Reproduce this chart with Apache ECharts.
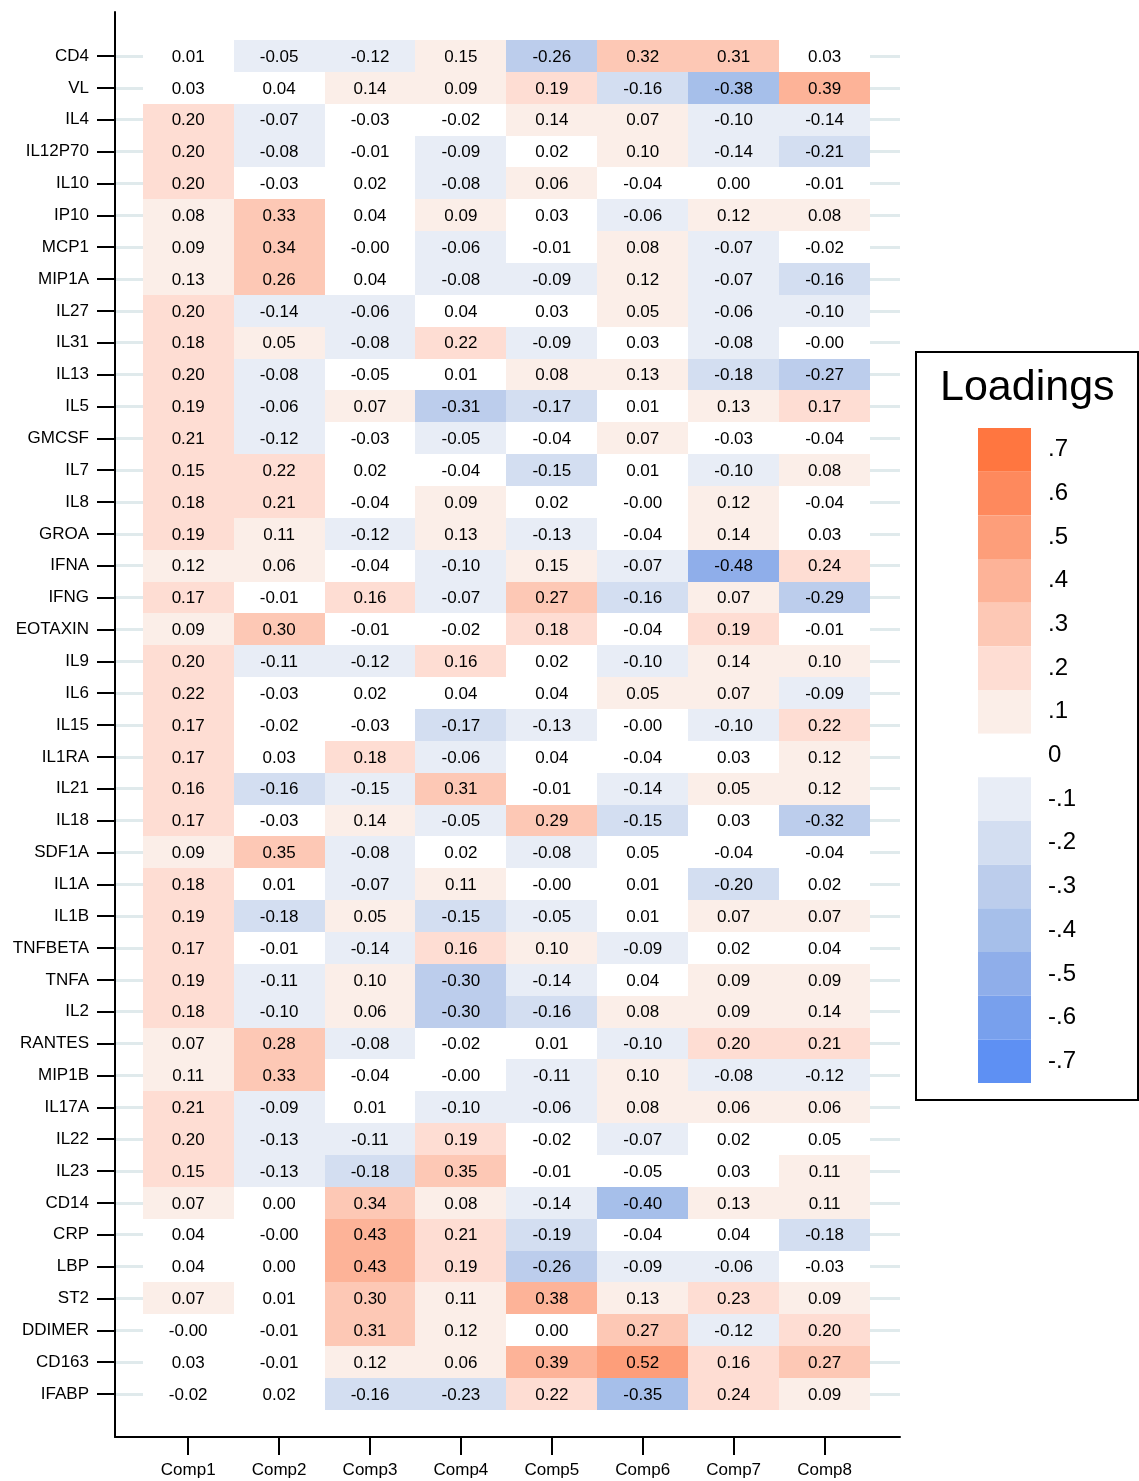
<!DOCTYPE html>
<html>
<head>
<meta charset="utf-8">
<script src="https://cdn.jsdelivr.net/npm/echarts@6/dist/echarts.min.js"></script>
<style>
  html, body { margin: 0; padding: 0; background: #fff; }
  #chart { width: 1139px; height: 1481px; }
</style>
</head>
<body>
<div id="chart"></div>
<script>
// markers (rows, top to bottom) and components (columns)
var markers = ['CD4', 'VL', 'IL4', 'IL12P70', 'IL10', 'IP10', 'MCP1', 'MIP1A', 'IL27', 'IL31',
  'IL13', 'IL5', 'GMCSF', 'IL7', 'IL8', 'GROA', 'IFNA', 'IFNG', 'EOTAXIN', 'IL9',
  'IL6', 'IL15', 'IL1RA', 'IL21', 'IL18', 'SDF1A', 'IL1A', 'IL1B', 'TNFBETA', 'TNFA',
  'IL2', 'RANTES', 'MIP1B', 'IL17A', 'IL22', 'IL23', 'CD14', 'CRP', 'LBP', 'ST2',
  'DDIMER', 'CD163', 'IFABP']
var comps = ['Comp1', 'Comp2', 'Comp3', 'Comp4', 'Comp5', 'Comp6', 'Comp7', 'Comp8']

// loadings per component, same order as markers
var comp1 = [0.01, 0.03, 0.20, 0.20, 0.20, 0.08, 0.09, 0.13, 0.20, 0.18,
  0.20, 0.19, 0.21, 0.152, 0.18, 0.19, 0.12, 0.17, 0.09, 0.20,
  0.22, 0.17, 0.17, 0.16, 0.17, 0.09, 0.18, 0.19, 0.17, 0.19,
  0.18, 0.07, 0.11, 0.21, 0.20, 0.152, 0.07, 0.04, 0.04, 0.07,
  -0.001, 0.03, -0.02]
var comp2 = [-0.052, 0.04, -0.07, -0.08, -0.03, 0.33, 0.34, 0.26, -0.14, 0.052,
  -0.08, -0.06, -0.12, 0.22, 0.21, 0.11, 0.06, -0.01, 0.30, -0.11,
  -0.03, -0.02, 0.03, -0.16, -0.03, 0.348, 0.01, -0.18, -0.01, -0.11,
  -0.10, 0.28, 0.33, -0.09, -0.13, -0.13, 0.00, -0.001, 0.00, 0.01,
  -0.01, -0.01, 0.02]
var comp3 = [-0.12, 0.14, -0.03, -0.01, 0.02, 0.04, -0.001, 0.04, -0.06, -0.08,
  -0.048, 0.07, -0.03, 0.02, -0.04, -0.12, -0.04, 0.16, -0.01, -0.12,
  0.02, -0.03, 0.18, -0.148, 0.14, -0.08, -0.07, 0.052, -0.14, 0.10,
  0.06, -0.08, -0.04, 0.01, -0.11, -0.18, 0.34, 0.43, 0.43, 0.30,
  0.31, 0.12, -0.16]
var comp4 = [0.148, 0.09, -0.02, -0.09, -0.08, 0.09, -0.06, -0.08, 0.04, 0.22,
  0.01, -0.31, -0.052, -0.04, 0.09, 0.13, -0.10, -0.07, -0.02, 0.16,
  0.04, -0.17, -0.06, 0.31, -0.052, 0.02, 0.11, -0.152, 0.16, -0.30,
  -0.30, -0.02, -0.001, -0.10, 0.19, 0.348, 0.08, 0.21, 0.19, 0.11,
  0.12, 0.06, -0.23]
var comp5 = [-0.26, 0.19, 0.14, 0.02, 0.06, 0.03, -0.01, -0.09, 0.03, -0.09,
  0.08, -0.17, -0.04, -0.152, 0.02, -0.13, 0.148, 0.27, 0.18, 0.02,
  0.04, -0.13, 0.04, -0.01, 0.29, -0.08, -0.001, -0.052, 0.10, -0.14,
  -0.16, 0.01, -0.11, -0.06, -0.02, -0.01, -0.14, -0.19, -0.26, 0.38,
  0.00, 0.39, 0.22]
var comp6 = [0.32, -0.16, 0.07, 0.10, -0.04, -0.06, 0.08, 0.12, 0.052, 0.03,
  0.13, 0.01, 0.07, 0.01, -0.001, -0.04, -0.07, -0.16, -0.04, -0.10,
  0.052, -0.001, -0.04, -0.14, -0.152, 0.048, 0.01, 0.01, -0.09, 0.04,
  0.08, -0.10, 0.10, 0.08, -0.07, -0.048, -0.40, -0.04, -0.09, 0.13,
  0.27, 0.52, -0.352]
var comp7 = [0.31, -0.38, -0.10, -0.14, 0.00, 0.12, -0.07, -0.07, -0.06, -0.08,
  -0.18, 0.13, -0.03, -0.10, 0.12, 0.14, -0.48, 0.07, 0.19, 0.14,
  0.07, -0.10, 0.03, 0.052, 0.03, -0.04, -0.20, 0.07, 0.02, 0.09,
  0.09, 0.20, -0.08, 0.06, 0.02, 0.03, 0.13, 0.04, -0.06, 0.23,
  -0.12, 0.16, 0.24]
var comp8 = [0.03, 0.39, -0.14, -0.21, -0.01, 0.08, -0.02, -0.16, -0.10, -0.001,
  -0.27, 0.17, -0.04, 0.08, -0.04, 0.03, 0.24, -0.29, -0.01, 0.10,
  -0.09, 0.22, 0.12, 0.12, -0.32, -0.04, 0.02, 0.07, 0.04, 0.09,
  0.14, 0.21, -0.12, 0.06, 0.048, 0.11, 0.11, -0.18, -0.03, 0.09,
  0.20, 0.27, 0.09]

// legend steps, top to bottom
var legendSteps = [0.7, 0.6, 0.5, 0.4, 0.3, 0.2, 0.1, 0, -0.1, -0.2, -0.3, -0.4, -0.5, -0.6, -0.7]
var legendLabels = ['.7', '.6', '.5', '.4', '.3', '.2', '.1', '0', '-.1', '-.2', '-.3', '-.4', '-.5', '-.6', '-.7']

var FONT = 'Arial, "Liberation Sans", sans-serif'
var orange = ['#fbeee8', '#feddd3', '#fdc8b5', '#fdb398', '#fd9e7a', '#fe895d', '#ff7640']
var blue = ['#e8edf6', '#d3def1', '#bccdec', '#a6bfea', '#8faeea', '#78a0ed', '#5e90f3']

var loadings = [comp1, comp2, comp3, comp4, comp5, comp6, comp7, comp8]
var cells = []
loadings.forEach(function (col, ci) {
  col.forEach(function (v, ri) {
    cells.push([ci + 1, ri + 1, v])
  })
})
var rowIdx = markers.map(function (m, i) { return i + 1 })
var colIdx = comps.map(function (c, i) { return i + 1 })

var pieces = legendSteps.map(function (s, i) {
  var k = Math.round(s * 10)
  return {
    gt: s - 0.05,
    lte: s + 0.05,
    label: legendLabels[i],
    color: k > 0 ? orange[k - 1] : (k < 0 ? blue[-k - 1] : '#ffffff')
  }
})

var chart = echarts.init(document.getElementById('chart'))
chart.setOption({
  animation: false,
  backgroundColor: '#fff',
  title: {
    text: 'Loadings',
    left: 940,
    top: 367,
    padding: 0,
    textStyle: { fontSize: 43, fontWeight: 'normal', color: '#000', fontFamily: FONT }
  },
  grid: { left: 115, top: 12, width: 785, height: 1425 },
  xAxis: {
    type: 'value',
    min: 0.195,
    max: 8.83,
    position: 'bottom',
    axisLine: { show: true, onZero: false, lineStyle: { color: '#000', width: 2 } },
    axisTick: { show: true, length: 18, customValues: colIdx, lineStyle: { color: '#000', width: 2 } },
    axisLabel: {
      customValues: colIdx,
      formatter: function (v) { return comps[Math.round(v) - 1] },
      margin: 25, fontSize: 17, color: '#000', fontFamily: FONT
    },
    splitLine: { show: false }
  },
  yAxis: {
    type: 'value',
    inverse: true,
    min: -0.381,
    max: 44.35,
    axisLine: { show: true, onZero: false, lineStyle: { color: '#000', width: 2 } },
    axisTick: { show: true, length: 18, customValues: rowIdx, lineStyle: { color: '#000', width: 2 } },
    axisLabel: {
      customValues: rowIdx,
      formatter: function (v) { return markers[Math.round(v) - 1] },
      margin: 26, fontSize: 17, color: '#000', fontFamily: FONT
    },
    splitLine: { show: true, lineStyle: { color: '#e0eaec', width: 3 } }
  },
  visualMap: {
    type: 'piecewise',
    dimension: 2,
    seriesIndex: 0,
    orient: 'vertical',
    align: 'left',
    left: 915,
    top: 351,
    pieces: pieces,
    itemWidth: 53,
    itemHeight: 43.67,
    itemGap: 0,
    itemSymbol: 'rect',
    textGap: 17,
    selectedMode: false,
    hoverLink: false,
    padding: [76, 62, 17, 62],
    backgroundColor: '#fff',
    borderColor: '#000',
    borderWidth: 2,
    textStyle: { fontSize: 24, color: '#000', fontFamily: FONT }
  },
  series: [{
    type: 'custom',
    data: cells,
    encode: { x: 0, y: 1 },
    renderItem: function (params, api) {
      var c = api.value(0), r = api.value(1), v = api.value(2)
      var a = api.coord([c - 0.5, r - 0.5])
      var b = api.coord([c + 0.5, r + 0.5])
      var x0 = Math.round(Math.min(a[0], b[0])), x1 = Math.round(Math.max(a[0], b[0]))
      var y0 = Math.round(Math.min(a[1], b[1])), y1 = Math.round(Math.max(a[1], b[1]))
      var mid = api.coord([c, r])
      return {
        type: 'group',
        children: [
          { type: 'rect', shape: { x: x0, y: y0, width: x1 - x0, height: y1 - y0 },
            style: { fill: api.visual('color') } },
          { type: 'text', x: mid[0], y: mid[1] + 1,
            style: { text: v.toFixed(2), align: 'center', verticalAlign: 'middle',
              fontSize: 17, fontFamily: FONT, fill: '#000' } }
        ]
      }
    }
  }]
})
</script>
</body>
</html>
